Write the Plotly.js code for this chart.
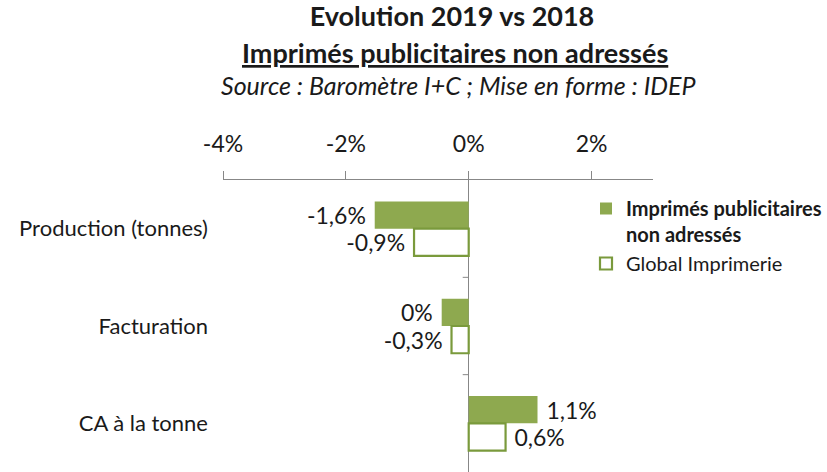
<!DOCTYPE html>
<html>
<head>
<meta charset="utf-8">
<script src="https://cdn.plot.ly/plotly-3.0.1.min.js"></script>
<style>html,body{margin:0;padding:0;background:#fff;}#chart{width:827px;height:472px;}</style>
</head>
<body>
<div id="chart"></div>
<script>
var categories = ['Production (tonnes)', 'Facturation', 'CA à la tonne'];
var seriesNames = ['Imprimés publicitaires non adressés', 'Global Imprimerie'];
var valuesPub = [-1.53, -0.44, 1.12];
var valuesGlobal = [-0.89, -0.28, 0.60];
var labelsPub = ['-1,6%', '0%', '1,1%'];
var labelsGlobal = ['-0,9%', '-0,3%', '0,6%'];
var tickValues = [-4, -2, 0, 2];
var tickLabels = ['-4%', '-2%', '0%', '2%'];

var NB = '\u00a0';
function pad(labels, values) {
  return labels.map(function (t, i) { return values[i] < 0 ? t + NB : NB + t; });
}

var FONT = 'Lato, "Open Sans", sans-serif';
var GREEN = '#8ea94f';
var GREEN_LINE = '#7a9a3c';
var GRAY = '#878787';
var TXT = '#1a1a1a';

var traces = [
  {
    type: 'bar', orientation: 'h',
    y: categories, x: valuesPub,
    name: '<b>Imprimés publicitaires</b><br><b>non adressés</b>',
    marker: {color: GREEN, line: {color: GREEN, width: 0}},
    text: pad(labelsPub, valuesPub),
    textposition: 'outside', cliponaxis: false, constraintext: 'none',
    textfont: {family: FONT, size: 23, color: TXT},
    hoverinfo: 'skip'
  },
  {
    type: 'bar', orientation: 'h',
    y: categories, x: valuesGlobal,
    name: seriesNames[1],
    marker: {color: '#ffffff', line: {color: GREEN_LINE, width: 2.2}},
    text: pad(labelsGlobal, valuesGlobal),
    textposition: 'outside', cliponaxis: false, constraintext: 'none',
    textfont: {family: FONT, size: 23, color: TXT},
    hoverinfo: 'skip'
  }
];

var shapes = [0.5, 1.5].map(function (b) {
  return {
    type: 'line', xref: 'x', xsizemode: 'pixel', xanchor: 0, x0: -6, x1: 0,
    yref: 'y', y0: b, y1: b, line: {color: GRAY, width: 1}
  };
});

var layout = {
  width: 827, height: 472,
  margin: {l: 223, r: 174, t: 180, b: 0, pad: 0},
  paper_bgcolor: '#ffffff', plot_bgcolor: '#ffffff',
  font: {family: FONT, color: TXT},
  barmode: 'group', bargap: 0.44, bargroupgap: 0,
  showlegend: true,
  title: {
    text: '<b>Evolution 2019 vs 2018</b>',
    font: {family: FONT, size: 27, color: TXT},
    x: 452 / 827, xanchor: 'center', xref: 'container',
    y: 1 - 17 / 472, yanchor: 'middle', yref: 'container'
  },
  annotations: [
    {
      text: '<b><u>Imprimés publicitaires non adressés</u></b>',
      xref: 'paper', yref: 'paper', x: (455 - 223) / 430, y: (472 - 53) / 292,
      xanchor: 'center', yanchor: 'middle', showarrow: false,
      font: {family: FONT, size: 27, color: TXT}
    },
    {
      text: '<i>Source : Baromètre I+C ; Mise en forme : IDEP</i>',
      xref: 'paper', yref: 'paper', x: (458 - 223) / 430, y: (472 - 85) / 292,
      xanchor: 'center', yanchor: 'middle', showarrow: false,
      font: {family: FONT, size: 25, color: TXT}
    }
  ],
  xaxis: {
    range: [-4, 3], side: 'top', fixedrange: true,
    showline: true, linecolor: GRAY, linewidth: 1,
    ticks: 'outside', ticklen: 8, tickcolor: GRAY, tickwidth: 1,
    tickmode: 'array', tickvals: tickValues, ticktext: tickLabels,
    tickfont: {family: FONT, size: 23, color: TXT},
    ticklabelstandoff: 10,
    showgrid: false,
    zeroline: true, zerolinecolor: GRAY, zerolinewidth: 1
  },
  yaxis: {
    type: 'category', autorange: 'reversed', fixedrange: true,
    showline: false, ticks: '', showgrid: false, zeroline: false,
    tickfont: {family: FONT, size: 22, color: TXT},
    ticklabelstandoff: 14
  },
  legend: {
    x: (586 - 223) / 430, y: (472 - 189) / 292, xanchor: 'left', yanchor: 'top',
    orientation: 'v', valign: 'top',
    font: {family: FONT, size: 20, color: TXT},
    bgcolor: 'rgba(0,0,0,0)', borderwidth: 0, tracegroupgap: 9
  },
  shapes: shapes,
  hovermode: false
};

Plotly.newPlot('chart', traces, layout, {displayModeBar: false, staticPlot: true});
</script>
</body>
</html>
